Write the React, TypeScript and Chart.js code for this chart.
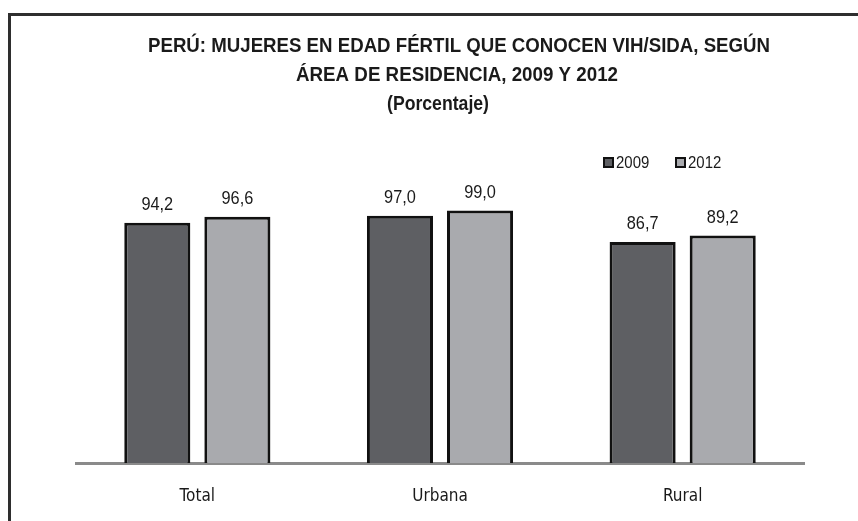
import React, { useEffect, useRef } from "react";
import { Chart, registerables } from "chart.js";

Chart.register(...registerables);

const categories = ["Total", "Urbana", "Rural"];
const seriesLabels = ["2009", "2012"];
const values2009 = [94.2, 97.0, 86.7];
const values2012 = [96.6, 99.0, 89.2];
const titleLines = [
  "PERÚ: MUJERES EN EDAD FÉRTIL QUE CONOCEN VIH/SIDA, SEGÚN",
  "ÁREA DE RESIDENCIA, 2009 Y 2012",
  "(Porcentaje)",
];

const FONT = '"Liberation Sans", Arial, sans-serif';
const TICK_FONT = '"DejaVu Sans Condensed", "DejaVu Sans", sans-serif';
const COLORS = ["#5e5f63", "#a9aaae"];
const fmt = (v: number) => v.toFixed(1).replace(".", ",");

function narrowText(ctx: CanvasRenderingContext2D, text: string, x: number, y: number, ratio: number) {
  const w = ctx.measureText(text).width;
  ctx.fillText(text, x, y, w * ratio);
}

const decor = {
  id: "decor",
  beforeDraw(chart: any) {
    const ctx = chart.ctx;
    ctx.save();
    ctx.fillStyle = "#ffffff";
    ctx.fillRect(0, 0, chart.width, chart.height);
    ctx.fillStyle = "#2e2e2e";
    ctx.fillRect(8, 13, 3, chart.height);
    ctx.fillRect(8, 13, chart.width, 3);
    ctx.restore();
  },
  afterDraw(chart: any) {
    const ctx = chart.ctx;
    ctx.save();
    // titles
    ctx.fillStyle = "#1a1a1a";
    ctx.textAlign = "center";
    ctx.textBaseline = "middle";
    ctx.font = `bold 21px ${FONT}`;
    ctx.fillText(titleLines[0], 459, 46, 622);
    ctx.fillText(titleLines[1], 457, 75, 322);
    ctx.fillText(titleLines[2], 438, 104, 102);
    // legend
    const legX = [603, 675];
    chart.data.datasets.forEach((ds: any, i: number) => {
      const x = legX[i];
      ctx.fillStyle = "#111";
      ctx.fillRect(x, 157, 11, 11);
      ctx.fillStyle = ds.backgroundColor;
      ctx.fillRect(x + 2, 159, 7, 7);
      ctx.fillStyle = "#1a1a1a";
      ctx.textAlign = "left";
      ctx.textBaseline = "alphabetic";
      ctx.font = `17px ${FONT}`;
      narrowText(ctx, ds.label, x + 13, 168, 0.88);
    });
    // data labels
    ctx.textAlign = "center";
    ctx.textBaseline = "alphabetic";
    ctx.font = `19px ${FONT}`;
    ctx.fillStyle = "#1a1a1a";
    chart.data.datasets.forEach((ds: any, i: number) => {
      const meta = chart.getDatasetMeta(i);
      meta.data.forEach((bar: any, j: number) => {
        narrowText(ctx, fmt(ds.data[j]), bar.x, bar.y - 13, 0.86);
      });
    });
    ctx.restore();
  },
};

export default function App() {
  const ref = useRef<HTMLCanvasElement | null>(null);
  useEffect(() => {
    if (!ref.current) return;
    const chart = new Chart(ref.current, {
      type: "bar",
      data: {
        labels: categories,
        datasets: [
          {
            label: seriesLabels[0],
            data: values2009,
            backgroundColor: COLORS[0],
            borderColor: "#111",
            borderWidth: 3,
            categoryPercentage: 0.66,
            barPercentage: 0.825,
          },
          {
            label: seriesLabels[1],
            data: values2012,
            backgroundColor: COLORS[1],
            borderColor: "#111",
            borderWidth: 3,
            categoryPercentage: 0.66,
            barPercentage: 0.825,
          },
        ],
      },
      options: {
        responsive: false,
        animation: false,
        layout: { padding: { left: 76, right: 54, top: 208, bottom: 0 } },
        plugins: {
          legend: { display: false },
          title: { display: false },
          tooltip: { enabled: false },
        },
        scales: {
          x: {
            grid: { display: false },
            border: { display: true, color: "#8a8a8a", width: 3 },
            ticks: { font: { family: TICK_FONT, size: 17 }, color: "#1a1a1a", padding: 15 },
            afterFit: (s: any) => {
              s.height = 58;
            },
          },
          y: { display: false, min: 0, max: 100 },
        },
      },
      plugins: [decor],
    });
    return () => chart.destroy();
  }, []);
  return (
    <div style={{ position: "fixed", left: 0, top: 0, width: 858, height: 521 }}>
      <canvas ref={ref} width={858} height={521} style={{ display: "block" }} />
    </div>
  );
}
